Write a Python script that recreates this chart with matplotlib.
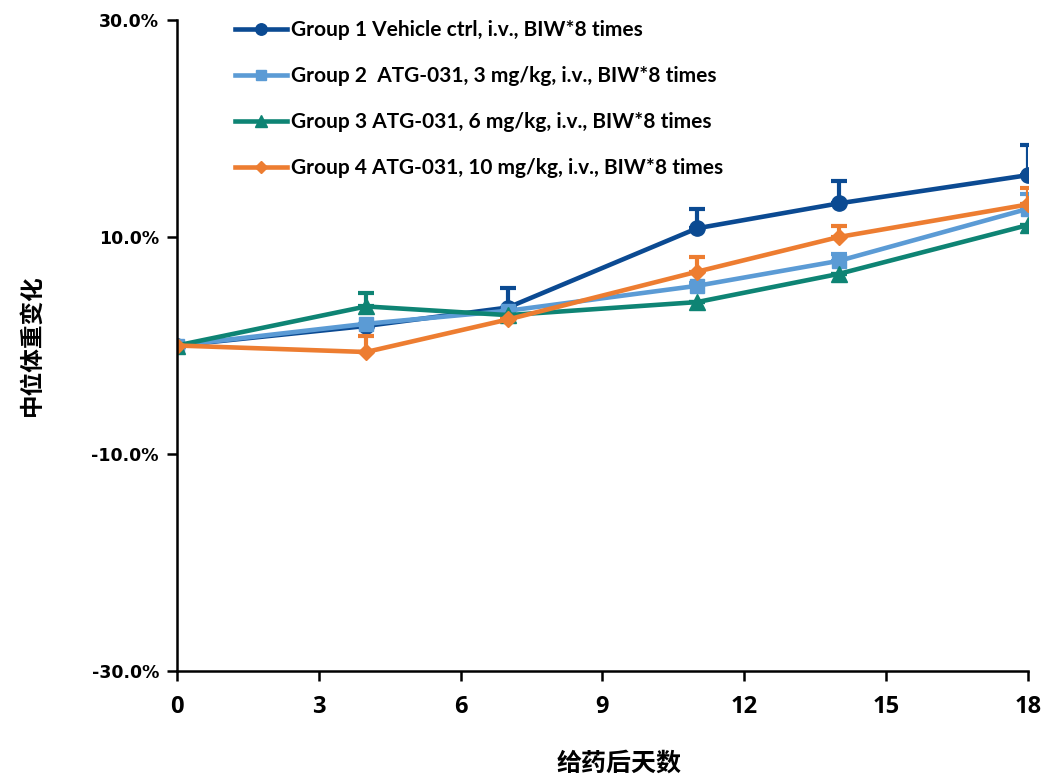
import matplotlib
matplotlib.use("Agg")
import matplotlib.pyplot as plt
import numpy as np

plt.rcParams["axes.unicode_minus"] = False
plt.rcParams["font.weight"] = "bold"

# days after dosing
days = [0, 4, 7, 11, 14, 18]

# median body weight change (%) and upper error per group
g1_mean = [0.0, 1.8, 3.5, 10.8, 13.1, 15.7]
g1_err = [0.0, 0.0, 1.8, 1.8, 2.1, 2.8]
g2_mean = [0.0, 2.0, 3.2, 5.5, 7.8, 12.6]
g2_err = [0.0, 0.0, 0.0, 0.3, 0.6, 1.4]
g3_mean = [0.0, 3.6, 2.8, 4.0, 6.6, 11.1]
g3_err = [0.0, 1.2, 0.0, 0.0, 0.0, 0.0]
g4_mean = [0.0, -0.6, 2.4, 6.8, 10.0, 13.0]
g4_err = [0.0, 1.5, 0.0, 1.4, 1.0, 1.5]

labels = [
    "Group 1 Vehicle ctrl, i.v., BIW*8 times",
    "Group 2  ATG-031, 3 mg/kg, i.v., BIW*8 times",
    "Group 3 ATG-031, 6 mg/kg, i.v., BIW*8 times",
    "Group 4 ATG-031, 10 mg/kg, i.v., BIW*8 times",
]

x_ticks = [0, 3, 6, 9, 12, 15, 18]
x_tick_labels = ["0", "3", "6", "9", "12", "15", "18"]
y_ticks = [-30, -10, 10, 30]
y_tick_labels = ["-30.0%", "-10.0%", "10.0%", "30.0%"]

colors = ["#0B4A92", "#5B9BD5", "#0E8474", "#ED7D31"]
markers = ["o", "s", "^", "D"]
msizes = [11, 10, 11, 8]

fig = plt.figure(figsize=(10.43, 7.8), dpi=100)
ax = fig.add_axes([0.1697, 0.1397, 0.8159, 0.8347])

series = [(g1_mean, g1_err), (g2_mean, g2_err), (g3_mean, g3_err), (g4_mean, g4_err)]
for (m, e), c, mk, ms, lab in zip(series, colors, markers, msizes, labels):
    m = np.array(m)
    e = np.array(e)
    ax.errorbar(days, m, yerr=[np.zeros_like(e), e], color=c, ecolor=c,
                elinewidth=3, capsize=6, capthick=3, fmt="none")
    ax.plot(days, m, color=c, lw=3.3, marker=mk, markersize=ms,
            markeredgecolor=c, label=lab)

ax.set_xlim(0, 18)
ax.set_ylim(-30, 30)

for s in ["top", "right"]:
    ax.spines[s].set_visible(False)
for s in ["left", "bottom"]:
    ax.spines[s].set_linewidth(1.8)
ax.tick_params(axis="both", width=1.8, length=7, direction="out")
ax.tick_params(axis="x", pad=10)
ax.tick_params(axis="y", pad=6)

ax.set_xticks(x_ticks, labels=x_tick_labels, fontsize=17,
              fontweight="bold", family="Open Sans")
ax.set_yticks(y_ticks, labels=y_tick_labels, fontsize=12.5,
              fontweight="bold", family="DejaVu Sans")

cjk = ["Noto Sans CJK SC", "DejaVu Sans"]
ax.set_ylabel("中位体重变化", family=cjk, fontweight="bold", fontsize=17)
ax.set_xlabel("给药后天数", family=cjk, fontweight="bold", fontsize=18)
ax.yaxis.set_label_coords(-0.157, 0.5)
ax.xaxis.set_label_coords(0.52, -0.124)

leg = ax.legend(loc="upper left", bbox_to_anchor=(0.046, 1.029), frameon=False,
                prop={"family": "Lato", "weight": "bold", "size": 15},
                handlelength=2.5, handletextpad=0.2, labelspacing=1.25,
                markerscale=0.75)

fig.savefig("out.png", dpi=100)
